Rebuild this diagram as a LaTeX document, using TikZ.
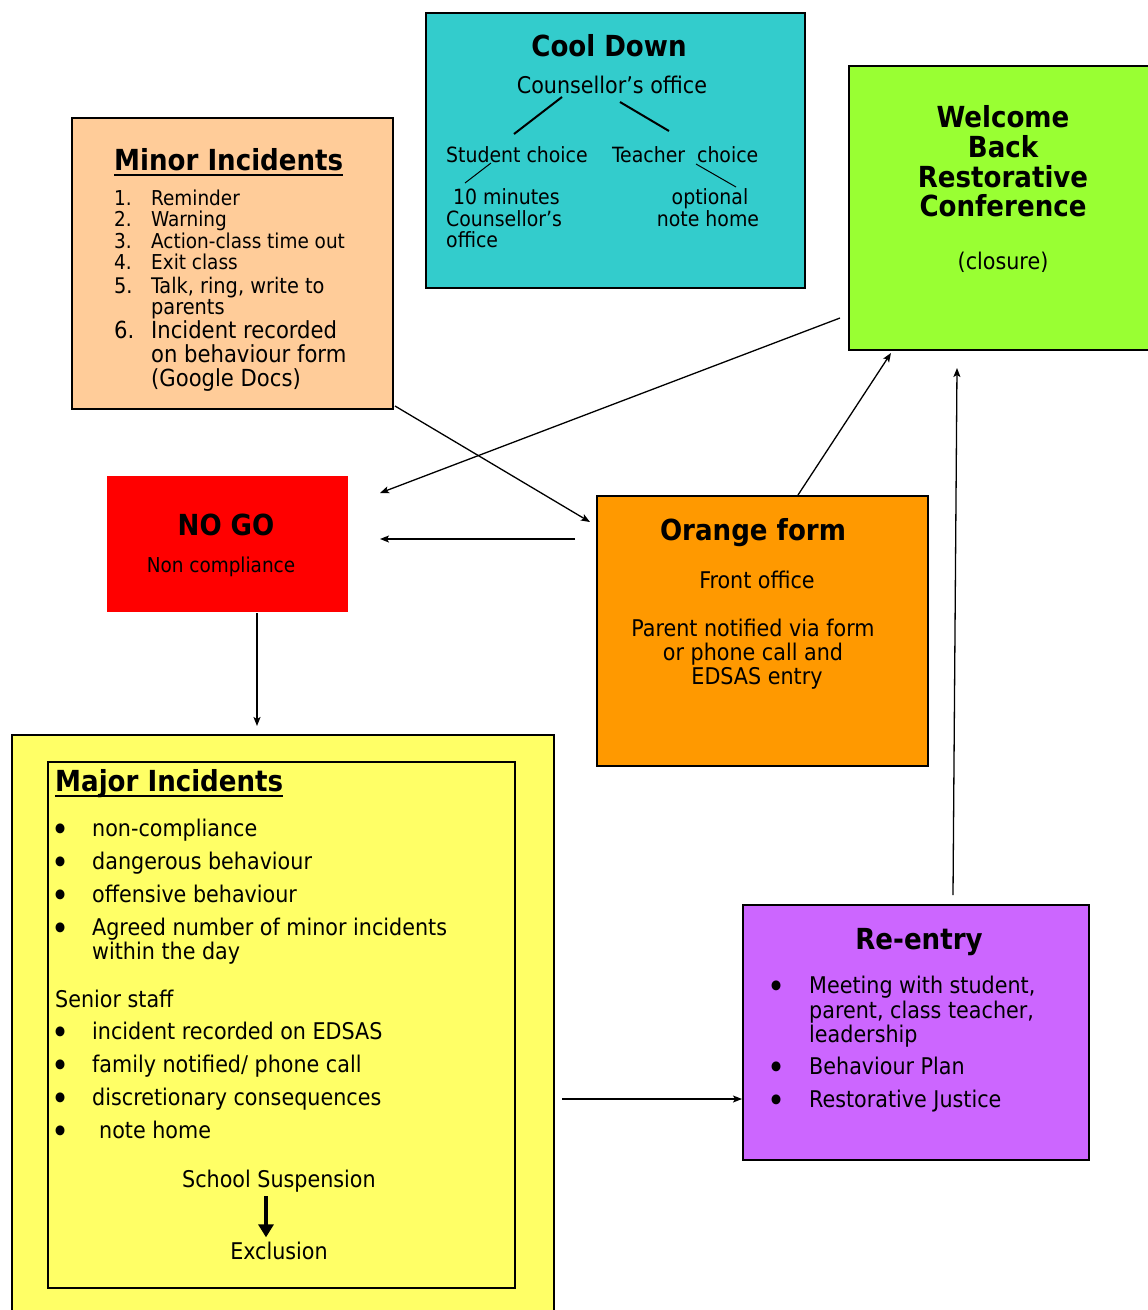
\documentclass[tikz,border=0pt]{standalone}
\usepackage{fontspec}
\setmainfont{DejaVu Sans Condensed}[BoldFont={DejaVu Sans Condensed Bold}]
\usetikzlibrary{arrows.meta,calc}
\definecolor{cteal}{HTML}{33CCCC}
\definecolor{cpeach}{HTML}{FFCC99}
\definecolor{clime}{HTML}{99FF33}
\definecolor{cred}{HTML}{FF0000}
\definecolor{corange}{HTML}{FF9900}
\definecolor{cyellow}{HTML}{FFFF66}
\definecolor{cviolet}{HTML}{CC66FF}
\tikzset{
  box/.style={draw=black, line width=2pt, inner sep=0, anchor=north west},
  t/.style={inner sep=0, font=\fontsize{#1}{#1}\selectfont},
  t/.default=21,
  tb/.style={inner sep=0, font=\bfseries\fontsize{29}{30}\selectfont},
  bul/.style={inner sep=0, anchor=center, font=\fontsize{34}{34}\selectfont},
  conn/.style={line width=1.3pt, -{Stealth[length=9pt,width=7pt,inset=2pt]}},
  ul/.style={line width=2.2pt},
}
\begin{document}
\begin{tikzpicture}[x=1pt,y=-1pt]
\useasboundingbox (0,0) rectangle (1148,1310);
% ---------- boxes
\node[box, fill=cteal, minimum width=379pt, minimum height=275pt] (cool) at (425,12) {};
\node[box, fill=cpeach, minimum width=321pt, minimum height=291pt] (minor) at (71,117) {};
\node[box, fill=clime, minimum width=310pt, minimum height=284pt] (wb) at (848,65) {};
\node[box, draw=none, fill=cred, minimum width=241pt, minimum height=136pt] (nogo) at (106,475) {};
\node[box, fill=corange, minimum width=331pt, minimum height=270pt] (orange) at (596,495) {};
\node[box, fill=cyellow, minimum width=542pt, minimum height=600pt] (major) at (11,734) {};
\node[box, line width=1.6pt, minimum width=467pt, minimum height=526pt] (inner) at (47,761) {};
\node[box, fill=cviolet, minimum width=346pt, minimum height=255pt] (reentry) at (742,904) {};

% ---------- Cool Down
\node[tb, anchor=base] (cdt) at (609,56) {Cool Down};
\node[t=23, anchor=base] (cdo) at (612,93) {Counsellor’s office};
\node[t, anchor=base west] (cds) at (446,162) {Student choice};
\node[t, anchor=base west] (cdc) at (612,162) {Teacher\ \ choice};
\node[t, anchor=base west] (cd10) at (453,204) {10 minutes};
\node[t, anchor=base west] (cdco) at (446,226) {Counsellor’s};
\node[t, anchor=base west] (cdof) at (446,247) {office};
\node[t, anchor=base] (cdop) at (710,204) {optional};
\node[t, anchor=base] (cdnh) at (708,226) {note home};
\draw[line width=2pt] (562,97) -- (514,134);
\draw[line width=2pt] (620,102) -- (669,131);
\draw[line width=1pt] (491,163) -- (465,183);
\draw[line width=1pt] (696,164) -- (736,187);

% ---------- Minor Incidents
\node[tb, anchor=base west] (mit) at (114,170) {Minor Incidents};
\draw[ul] ([yshift=-5pt]mit.base west) -- ([yshift=-5pt]mit.base east);
\foreach \n/\y/\s/\txt in {1/205/20.5/Reminder, 2/226/20.5/Warning, 3/248/20.5/Action-class time out, 4/269/20.5/Exit class, 5/293/21.5/{Talk, ring, write to}, 6/338/23.5/Incident recorded}{
  \node[t=\s, anchor=base west] (mn\n) at (114,\y) {\n.};
  \node[t=\s, anchor=base west] (mi\n) at (151,\y) {\txt};
}
\node[t=21.5, anchor=base west] (mi5b) at (151,314) {parents};
\node[t=23.5, anchor=base west] (mi6b) at (151,362) {on behaviour form};
\node[t=23.5, anchor=base west] (mi6c) at (151,386) {(Google Docs)};

% ---------- Welcome Back
\node[tb, anchor=base] (wb1) at (1003,127) {Welcome};
\node[tb, anchor=base] (wb2) at (1003,157) {Back};
\node[tb, anchor=base] (wb3) at (1003,187) {Restorative};
\node[tb, anchor=base] (wb4) at (1003,216) {Conference};
\node[t=23, anchor=base] (wb5) at (1003,269) {(closure)};

% ---------- NO GO
\node[tb, anchor=base] (ng1) at (226,535) {NO GO};
\node[t=20.5, anchor=base] (ng2) at (221,572) {Non compliance};

% ---------- Orange form
\node[tb, anchor=base] (of1) at (753,540) {Orange form};
\node[t=23, anchor=base] (of2) at (757,588) {Front office};
\node[t=23, anchor=base] (of3) at (753,636) {Parent notified via form};
\node[t=23, anchor=base] (of4) at (753,660) {or phone call and};
\node[t=23, anchor=base] (of5) at (757,684) {EDSAS entry};

% ---------- Major Incidents
\node[tb, anchor=base west] (mjt) at (55,791) {Major Incidents};
\draw[ul] ([yshift=-5pt]mjt.base west) -- ([yshift=-5pt]mjt.base east);
\foreach \n/\y/\x/\txt in {1/836/92/non-compliance, 2/869/92/dangerous behaviour, 3/902/92/offensive behaviour, 4/935/92/Agreed number of minor incidents, 5/1039/92/incident recorded on EDSAS, 6/1072/92/{family notified/ phone call}, 7/1105/92/discretionary consequences, 8/1138/99/note home}{
  \node[bul] (mb\n) at (61,\y-3) {•};
  \node[t=23, anchor=base west] (mj\n) at (\x,\y) {\txt};
}
\node[t=23, anchor=base west] (mj4b) at (92,959) {within the day};
\node[t=23, anchor=base west] (mjs) at (55,1007) {Senior staff};
\node[t=23, anchor=base] (ss) at (279,1187) {School Suspension};
\node[t=23, anchor=base] (ex) at (279,1259) {Exclusion};
\draw[line width=4pt, -{Triangle[length=13pt,width=15pt]}] ($(ss.base)+(-13,9)$) -- ($(ex.north)+(-13,-4)$);

% ---------- Re-entry
\node[tb, anchor=base] (ret) at (919,949) {Re-entry};
\foreach \n/\y in {1/993,2/1074,3/1107}{
  \node[bul] (rb\n) at (777,\y-3) {•};
}
\node[t=23, anchor=base west] (re1) at (809,993) {Meeting with student,};
\node[t=23, anchor=base west] (re1b) at (809,1018) {parent, class teacher,};
\node[t=23, anchor=base west] (re1c) at (809,1042) {leadership};
\node[t=23, anchor=base west] (re2) at (809,1074) {Behaviour Plan};
\node[t=23, anchor=base west] (re3) at (809,1107) {Restorative Justice};

% ---------- connectors
\draw[conn] ($(wb.south west)+(-8,-33)$) -- ($(nogo.north east)+(31,18)$);
\draw[conn] ($(minor.south east)+(1,-4)$) -- ($(orange.north west)+(-6,27)$);
\draw[conn] ($(orange.north west)+(-21,44)$) -- ($(nogo.north east)+(31,64)$);
\draw[conn] ($(orange.north west)+(202,0)$) -- ($(wb.south west)+(43,2)$);
\draw[conn] ($(reentry.north west)+(211,-9)$) -- ($(wb.south west)+(109,17)$);
\draw[conn] ($(nogo.south west)+(151,0)$) -- ($(major.north west)+(246,-8)$);
\draw[conn] ($(major.north east)+(7,365)$) -- ($(reentry.north west)+(0,195)$);
\end{tikzpicture}
\end{document}
